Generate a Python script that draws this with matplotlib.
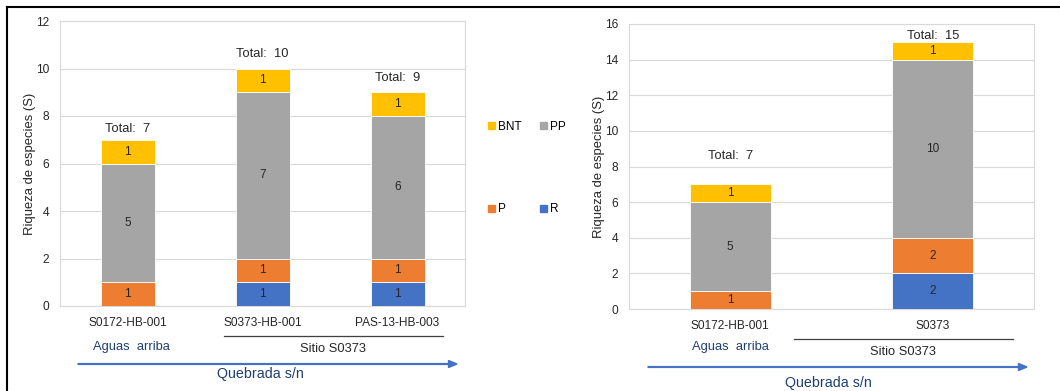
import numpy as np
import matplotlib.pyplot as plt
from matplotlib.lines import Line2D
from matplotlib.patches import FancyArrow, Patch

# riqueza por categoría, panel izquierdo (estaciones)
left_sites = ["S0172-HB-001", "S0373-HB-001", "PAS-13-HB-003"]
left_R = [0, 1, 1]
left_P = [1, 1, 1]
left_PP = [5, 7, 6]
left_BNT = [1, 1, 1]

# panel derecho (sitio agrupado)
right_sites = ["S0172-HB-001", "S0373"]
right_R = [0, 2]
right_P = [1, 2]
right_PP = [5, 10]
right_BNT = [1, 1]

categories = ["R", "P", "PP", "BNT"]
colors = {"R": "#4472C4", "P": "#ED7D31", "PP": "#A5A5A5", "BNT": "#FFC000"}
dark_blue = "#1F3F73"
W, H = 1060, 391

plt.rcParams['font.family'] = ['Liberation Sans', 'DejaVu Sans']

fig = plt.figure(figsize=(W / 100, H / 100), dpi=100)


def px(x, y):
    return x / W, 1 - y / H


def stacked(ax, sites, series, ymax, total_offsets):
    x = np.arange(len(sites))
    bottom = np.zeros(len(sites))
    for cat in categories:
        vals = np.array(series[cat], dtype=float)
        ax.bar(x, vals, 0.4, bottom=bottom, color=colors[cat],
               edgecolor="white", linewidth=0.6, zorder=3)
        for xi, v, b in zip(x, vals, bottom):
            if v > 0:
                ax.text(xi, b + v / 2, f"{int(v)}", ha="center", va="center",
                        fontsize=8.5, color="#262626", zorder=4)
        bottom += vals
    for xi, tot, off in zip(x, bottom, total_offsets):
        ax.text(xi, tot + off, f"Total:  {int(tot)}", ha="center", va="center",
                fontsize=9.3, color="#262626")
    ax.set_xlim(-0.5, len(sites) - 0.5)
    ax.set_ylim(0, ymax)
    ax.set_yticks(np.arange(0, ymax + 1, 2))
    ax.set_xticks(x)
    ax.set_xticklabels(sites)
    ax.tick_params(length=0, labelsize=8.6, colors="#262626", pad=8)
    ax.grid(axis="y", color="#D9D9D9", linewidth=0.8, zorder=0)
    for s in ax.spines.values():
        s.set_color("#D9D9D9")
        s.set_linewidth(0.8)
    ax.set_ylabel("Riqueza de especies (S)", fontsize=9.4, color="#262626",
                  labelpad=0)


ax1 = fig.add_axes([60 / W, 1 - 306 / H, 405 / W, 285 / H])
stacked(ax1, left_sites,
        {"R": left_R, "P": left_P, "PP": left_PP, "BNT": left_BNT},
        12, [0.45, 0.6, 0.6])

ax2 = fig.add_axes([629 / W, 1 - 309 / H, 405 / W, 285 / H])
stacked(ax2, right_sites,
        {"R": right_R, "P": right_P, "PP": right_PP, "BNT": right_BNT},
        16, [1.6, 0.3])

# leyenda compartida 2x2
handles = [Patch(color=colors[c]) for c in ["BNT", "P", "PP", "R"]]
fig.legend(handles, ["BNT", "P", "PP", "R"], ncol=2, frameon=False,
           loc="center", bbox_to_anchor=px(527, 168), fontsize=8.5,
           handlelength=0.6, handleheight=0.6, handletextpad=0.3,
           labelspacing=6.0, columnspacing=1.5)


def annotations(x_aguas, y_aguas, x1, x2, y_line, x_sitio, y_sitio,
                xa1, xa2, y_arrow, x_queb, y_queb):
    fig.text(*px(x_aguas, y_aguas), "Aguas  arriba", ha="center", va="center",
             fontsize=9.3, color=dark_blue)
    fig.add_artist(Line2D([x1 / W, x2 / W], [1 - y_line / H] * 2,
                          color="#404040", linewidth=0.9))
    fig.text(*px(x_sitio, y_sitio), "Sitio S0373", ha="center", va="center",
             fontsize=9.3, color="#262626")
    ax0, ay = px(xa1, y_arrow)
    fig.add_artist(FancyArrow(ax0, ay, (xa2 - xa1) / W, 0,
                              width=0.002, head_width=0.018,
                              head_length=0.008, length_includes_head=True,
                              color="#4472C4", transform=fig.transFigure))
    fig.text(*px(x_queb, y_queb), "Quebrada s/n", ha="center", va="center",
             fontsize=10.3, color=dark_blue)


annotations(131, 347, 224, 443, 336, 333, 349, 78, 457, 364, 260, 374)
annotations(730, 347, 794, 1013, 339, 903, 352, 648, 1027, 367, 828, 383)

# marco de la figura (solo arriba e izquierda)
fig.add_artist(Line2D([7 / W, 1], [1 - 7 / H] * 2, color="black", linewidth=1.5))
fig.add_artist(Line2D([7 / W, 7 / W], [0, 1 - 7 / H], color="black", linewidth=1.5))

fig.savefig("out.png", dpi=100)
